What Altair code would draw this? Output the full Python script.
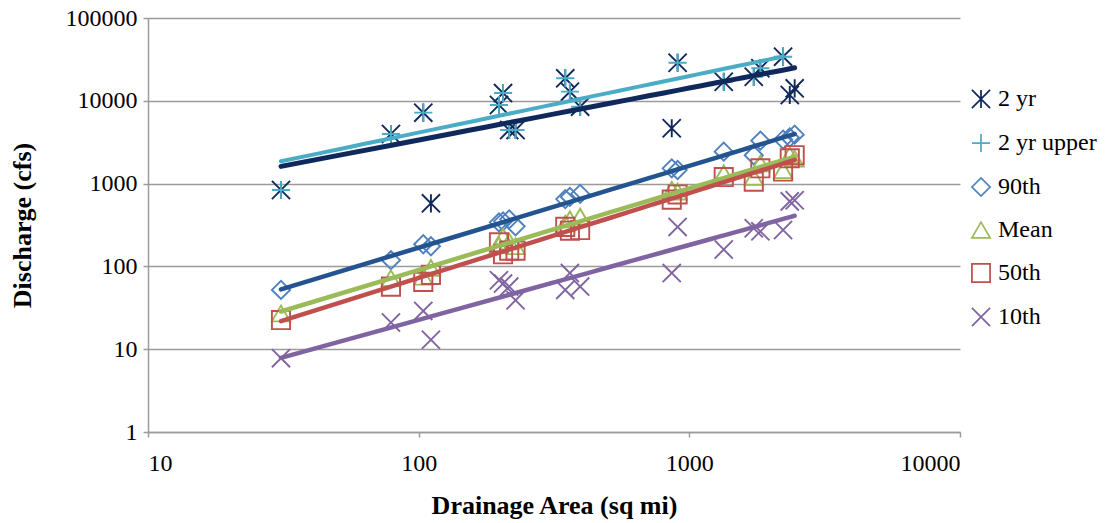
import altair as alt
import pandas as pd

# Gauged drainage areas (sq mi) and discharge statistics (cfs) per station
areas = [31, 79, 104, 111, 198, 205, 216, 228, 348, 362, 395, 861, 905,
         1340, 1730, 1830, 2220, 2350, 2450]
q2 = [837, 3970, 7190, 578, 8900, 12400, 4440, 4440, 18700, 12900, 8490,
      4660, 28800, 17000, 19500, 24700, 34100, 11750, 14150]
q2_upper = [837, 3970, 7190, None, 8900, 12400, 4440, 4440, 18700, 12900,
            8490, None, 28800, 17000, 19500, 24700, 34100, None, None]
p90 = [52, 119, 185, 175, 340, 350, 370, 305, 650, 690, 750, 1530, 1460,
       2430, 2200, 3300, 3400, 3600, 3900]
mean = [27, 72, 75, 96, 180, 230, 200, 175, 330, 370, 400, 840, 800,
        1330, 1200, 1750, 1450, 2200, 2000]
p50 = [22.5, 57, 65, 79, 195, 140, 155, 155, 300, 270, 275, 640, 740,
       1200, 1055, 1530, 1400, 2020, 2200]
p10 = [7.8, 21, 29, 13, 68, 62, 57, 39, 52, 83, 57, 83, 300, 160, 289,
       265, 275, 610, 630]

series_names = ["2 yr", "2 yr upper", "90th", "Mean", "50th", "10th"]
series_values = [q2, q2_upper, p90, mean, p50, p10]

marker_colors = ["#10295C", "#4BACC6", "#4F81BD", "#9BBB59", "#C0504D", "#8064A2"]
line_colors = ["#10295C", "#4BACC6", "#24548F", "#9BBB59", "#C0504D", "#8064A2"]
line_widths = [5, 4, 4.5, 4.5, 4.5, 4.5]

ASTERISK = "M-1,-1L1,1M1,-1L-1,1M0,-1L0,1"
PLUS = "M-1,0L1,0M0,-1L0,1"
XMARK = "M-1,-1L1,1M1,-1L-1,1"
marker_shapes = [ASTERISK, PLUS, "diamond", "triangle-up", "square", XMARK]

rows = []
for name, vals in zip(series_names, series_values):
    for a, v in zip(areas, vals):
        if v is not None:
            rows.append({"series": name, "area": a, "q": v})
df = pd.DataFrame(rows)

FONT = "'Liberation Serif', 'Times New Roman', serif"

x_enc = alt.X(
    "area:Q",
    scale=alt.Scale(type="log", domain=[10, 10000], nice=False),
    axis=alt.Axis(
        values=[10, 100, 1000, 10000], format="d", grid=False,
        title="Drainage Area (sq mi)", titleX=406, titleY=73,
        titleAlign="center", titleBaseline="middle",
        tickSize=5, labelPadding=14,
    ),
)
y_enc = alt.Y(
    "q:Q",
    scale=alt.Scale(type="log", domain=[1, 100000], nice=False),
    axis=alt.Axis(
        values=[1, 10, 100, 1000, 10000, 100000], format="d", grid=True,
        title="Discharge (cfs)", titleX=-126, titleY=207, titleAngle=270,
        titleAlign="center", titleBaseline="middle",
        tickSize=5, labelPadding=6,
    ),
)

legend = alt.Legend(
    title=None, orient="none", legendX=821, legendY=69,
    labelFont=FONT, labelFontSize=24, labelColor="black",
    symbolStrokeWidth=1.75, symbolSize=330, labelOffset=5,
    rowPadding=18, padding=0,
)

base = alt.Chart(df)

points = base.mark_point(filled=False, size=330, strokeWidth=1.9, opacity=1).encode(
    x=x_enc,
    y=y_enc,
    stroke=alt.Stroke("series:N", scale=alt.Scale(domain=series_names, range=marker_colors), legend=legend),
    shape=alt.Shape("series:N", scale=alt.Scale(domain=series_names, range=marker_shapes), legend=legend),
)

# Power-law trend line for each series
lines = []
for name, col, w in zip(series_names, line_colors, line_widths):
    lines.append(
        base.transform_filter(alt.datum.series == name)
        .transform_regression("area", "q", method="pow")
        .mark_line(strokeWidth=w, strokeCap="round", color=col)
        .encode(x=x_enc, y=y_enc)
    )

chart = (
    alt.layer(points, *lines)
    .properties(
        width=812, height=414,
        autosize=alt.AutoSizeParams(type="none"),
        padding={"left": 148, "top": 18, "right": 152, "bottom": 91},
        background="white",
    )
    .configure_axis(
        labelFont=FONT, labelFontSize=24, labelColor="black",
        titleFont=FONT, titleFontSize=26, titleFontWeight="bold", titleColor="black",
        domainColor="#9B9B9B", tickColor="#9B9B9B", gridColor="#9B9B9B",
        gridWidth=1.5, domainWidth=1.5, tickWidth=1.5,
    )
    .configure_view(stroke=None)
)

chart.save("out.html", embed_options={"renderer": "svg", "actions": False})
